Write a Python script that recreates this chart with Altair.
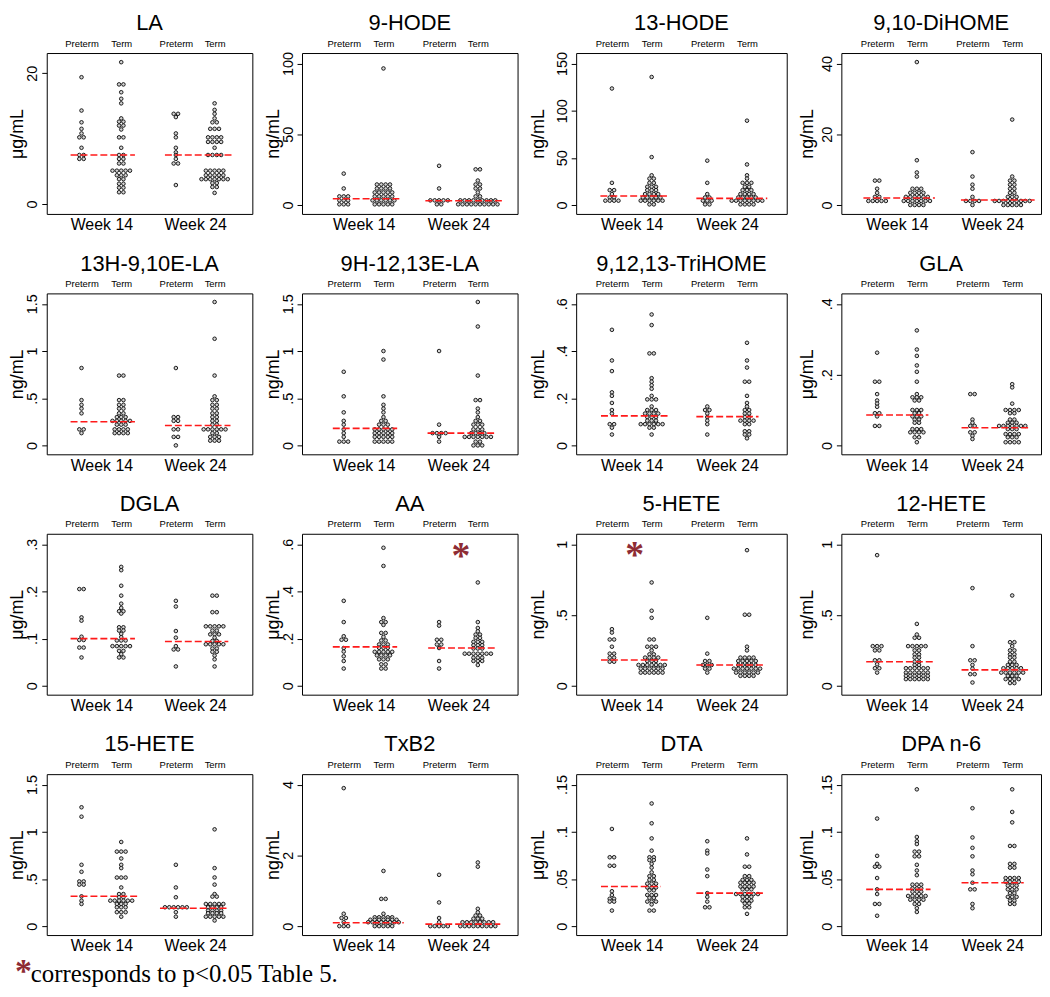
import altair as alt
import pandas as pd

# ---------------- data ----------------
GROUP_LABELS = ["Preterm", "Term", "Preterm", "Term"]
WEEK_LABELS = ["Week 14", "Week 24"]
FOOTNOTE = "corresponds to p<0.05 Table 5."

# each panel: [Preterm wk14, Term wk14, Preterm wk24, Term wk24]
LA = [
    [19.4, 14.3, 12.5, 11.5, 10.8, 10.2, 10.2, 8.6, 7.5, 7.5, 6.9, 6.9],
    [21.7, 18.3, 18.3, 17.1, 16.1, 15.4, 13.1, 12.6, 12.6, 12.0, 12.0, 11.4, 10.2, 10.2, 8.6, 7.5, 7.5,
     6.9, 6.9, 6.2, 6.2, 5.1, 5.1, 5.1, 5.1, 5.1, 4.4, 4.4, 4.4, 3.8, 3.8, 3.1, 3.1, 2.5, 2.5, 1.8, 1.8],
    [13.8, 13.8, 13.3, 10.8, 10.2, 8.6, 7.9, 7.5, 6.9, 6.2, 6.2, 2.9],
    [15.4, 14.4, 13.8, 13.1, 12.5, 12.5, 11.5, 11.5, 11.5, 10.2, 10.2, 10.2, 10.2, 9.5, 9.5, 9.5, 9.5, 8.6,
     7.5, 7.5, 7.5, 7.5, 5.1, 5.1, 5.1, 5.1, 5.1, 4.4, 4.4, 4.4, 4.4, 4.4, 3.8, 3.8, 3.8, 3.8, 3.8, 3.8, 3.8,
     3.2, 3.2, 2.6, 2.6, 1.7],
]
HODE9 = [
    [22.2, 11.7, 6.1, 6.1, 6.1, 3.3, 3.3, 3.3, 0.5, 0.5, 0.5],
    [96.5, 14.5, 14.5, 14.5, 14.5, 11.7, 11.7, 11.7, 11.7, 8.9, 8.9, 8.9, 8.9, 8.9, 6.1, 6.1, 6.1, 6.1, 6.1,
     3.3, 3.3, 3.3, 3.3, 3.3, 3.3, 0.5, 0.5, 0.5, 0.5, 0.5],
    [27.7, 11.7, 3.3, 3.3, 3.3, 3.3, 3.3, 0.5, 0.5],
    [25.2, 25.2, 17.3, 14.5, 14.5, 11.7, 11.7, 8.9, 6.1, 6.1, 3.3, 3.3, 3.3, 3.3, 3.3, 3.3, 3.3, 3.3, 3.3,
     0.5, 0.5, 0.5, 0.5, 0.5, 0.5, 0.5, 0.5, 0.5, 0.5],
]
HODE13 = [
    [123.5, 23.5, 15.8, 15.8, 11.6, 8.0, 8.0, 4.6, 4.6, 4.6, 4.6],
    [135.7, 50.8, 31.5, 28.0, 28.0, 23.5, 23.5, 19.3, 19.3, 19.3, 15.8, 15.8, 15.8, 11.6, 11.6, 11.6, 11.6,
     8.0, 8.0, 8.0, 8.0, 8.0, 4.6, 4.6, 4.6, 4.6, 4.6, 4.6, 0.7, 0.7],
    [47.0, 23.5, 11.6, 8.0, 8.0, 4.6, 4.6, 4.6, 0.7, 0.7],
    [89.4, 43.0, 31.5, 28.0, 23.5, 23.5, 23.5, 19.3, 19.3, 15.8, 15.8, 15.8, 11.6, 11.6, 11.6, 11.6,
     8.0, 8.0, 8.0, 8.0, 8.0, 4.6, 4.6, 4.6, 4.6, 4.6, 4.6, 4.6, 4.6, 0.7, 0.7, 0.7, 0.7],
]
DIHOME = [
    [6.9, 6.9, 4.6, 3.45, 2.3, 2.3, 1.15, 1.15, 1.15, 1.15, 1.15],
    [40.4, 12.65, 9.2, 8.05, 4.6, 4.6, 4.6, 3.45, 3.45, 3.45, 3.45, 2.3, 2.3, 2.3, 2.3, 2.3, 2.3,
     1.15, 1.15, 1.15, 1.15, 1.15, 1.15, 1.15, 0.0, 0.0, 0.0, 0.0],
    [14.95, 8.05, 5.75, 4.6, 2.3, 1.15, 1.15, 1.15, 1.15, 0.0],
    [24.15, 8.05, 6.9, 6.9, 5.75, 5.75, 4.6, 4.6, 3.45, 3.45, 2.3, 2.3, 2.3, 1.15, 1.15, 1.15, 1.15, 1.15,
     1.15, 1.15, 1.15, 1.15, 0.0, 0.0, 0.0, 0.0, 0.0],
]
E13H = [
    [0.82, 0.48, 0.43, 0.39, 0.34, 0.17, 0.17, 0.13],
    [0.74, 0.74, 0.48, 0.48, 0.43, 0.43, 0.39, 0.39, 0.34, 0.34, 0.30, 0.30, 0.30, 0.26, 0.26, 0.26, 0.26,
     0.26, 0.22, 0.22, 0.22, 0.17, 0.17, 0.17, 0.17, 0.13, 0.13, 0.13, 0.13],
    [0.82, 0.30, 0.30, 0.26, 0.26, 0.17, 0.17, 0.09, 0.09, 0.0],
    [1.52, 1.13, 0.74, 0.52, 0.48, 0.48, 0.43, 0.43, 0.39, 0.39, 0.34, 0.34, 0.30, 0.30, 0.26, 0.26, 0.22,
     0.22, 0.17, 0.17, 0.17, 0.17, 0.17, 0.17, 0.13, 0.13, 0.09, 0.09, 0.09, 0.05, 0.05, 0.05],
]
E9H = [
    [0.78, 0.52, 0.35, 0.26, 0.22, 0.17, 0.13, 0.09, 0.04, 0.04, 0.04],
    [1.0, 0.91, 0.52, 0.43, 0.39, 0.35, 0.30, 0.26, 0.26, 0.22, 0.22, 0.22, 0.17, 0.17, 0.17, 0.17, 0.17,
     0.13, 0.13, 0.13, 0.13, 0.13, 0.09, 0.09, 0.09, 0.09, 0.09, 0.04, 0.04, 0.04, 0.04, 0.04],
    [1.0, 0.22, 0.13, 0.13, 0.13, 0.13, 0.09, 0.04],
    [1.52, 1.26, 0.74, 0.48, 0.48, 0.39, 0.35, 0.30, 0.26, 0.26, 0.22, 0.22, 0.22, 0.17, 0.17, 0.17,
     0.13, 0.13, 0.13, 0.13, 0.09, 0.09, 0.09, 0.09, 0.09, 0.09, 0.09, 0.04, 0.04, 0.0, 0.0, 0.0],
]
TRIHOME = [
    [0.49, 0.36, 0.315, 0.225, 0.21, 0.18, 0.15, 0.135, 0.09, 0.09, 0.075, 0.046],
    [0.555, 0.51, 0.39, 0.39, 0.285, 0.27, 0.255, 0.24, 0.21, 0.195, 0.195, 0.195, 0.165, 0.15, 0.15, 0.15,
     0.135, 0.135, 0.135, 0.135, 0.12, 0.12, 0.12, 0.105, 0.105, 0.105, 0.09, 0.09, 0.09, 0.09, 0.09, 0.09,
     0.075, 0.075, 0.046],
    [0.165, 0.15, 0.15, 0.135, 0.12, 0.105, 0.09, 0.046],
    [0.435, 0.36, 0.33, 0.27, 0.27, 0.21, 0.18, 0.165, 0.15, 0.15, 0.135, 0.135, 0.12, 0.12, 0.105, 0.105,
     0.105, 0.105, 0.09, 0.09, 0.06, 0.06, 0.046, 0.046, 0.03],
]
GLA = [
    [0.262, 0.18, 0.18, 0.145, 0.127, 0.118, 0.109, 0.091, 0.091, 0.082, 0.055, 0.055],
    [0.325, 0.271, 0.253, 0.226, 0.208, 0.18, 0.145, 0.136, 0.136, 0.136, 0.127, 0.127, 0.1, 0.1, 0.1,
     0.091, 0.091, 0.082, 0.082, 0.082, 0.073, 0.073, 0.064, 0.064, 0.046, 0.046, 0.046, 0.037, 0.037,
     0.037, 0.037, 0.023, 0.023, 0.009],
    [0.145, 0.145, 0.073, 0.064, 0.055, 0.055, 0.037, 0.037, 0.027, 0.018],
    [0.173, 0.164, 0.118, 0.1, 0.1, 0.1, 0.1, 0.091, 0.091, 0.073, 0.073, 0.064, 0.064, 0.064, 0.055, 0.055,
     0.055, 0.055, 0.055, 0.055, 0.055, 0.046, 0.046, 0.046, 0.032, 0.032, 0.032, 0.032, 0.023, 0.023,
     0.023, 0.009, 0.009, 0.009, 0.009],
]
DGLA = [
    [0.205, 0.205, 0.145, 0.138, 0.104, 0.097, 0.097, 0.081, 0.081, 0.06],
    [0.252, 0.245, 0.212, 0.191, 0.174, 0.165, 0.158, 0.158, 0.153, 0.124, 0.124, 0.117, 0.117, 0.11, 0.103,
     0.096, 0.096, 0.096, 0.084, 0.084, 0.084, 0.084, 0.084, 0.074, 0.074, 0.067, 0.06, 0.06],
    [0.18, 0.168, 0.116, 0.102, 0.084, 0.077, 0.077, 0.041],
    [0.191, 0.191, 0.156, 0.156, 0.126, 0.126, 0.126, 0.126, 0.126, 0.117, 0.117, 0.109, 0.109, 0.109, 0.102,
     0.095, 0.095, 0.088, 0.088, 0.088, 0.088, 0.088, 0.079, 0.079, 0.072, 0.072, 0.064, 0.056, 0.041],
]
AA = [
    [0.36, 0.27, 0.21, 0.195, 0.195, 0.16, 0.145, 0.125, 0.105, 0.073],
    [0.585, 0.508, 0.287, 0.27, 0.27, 0.258, 0.224, 0.224, 0.207, 0.192, 0.192, 0.175, 0.175, 0.175, 0.161,
     0.161, 0.161, 0.144, 0.144, 0.144, 0.144, 0.144, 0.129, 0.129, 0.129, 0.129, 0.112, 0.112, 0.112,
     0.091, 0.091, 0.073, 0.073],
    [0.27, 0.255, 0.195, 0.195, 0.175, 0.175, 0.16, 0.105, 0.073],
    [0.438, 0.27, 0.245, 0.231, 0.217, 0.217, 0.203, 0.203, 0.186, 0.186, 0.186, 0.172, 0.172, 0.172, 0.158,
     0.158, 0.158, 0.136, 0.136, 0.136, 0.136, 0.136, 0.136, 0.136, 0.119, 0.119, 0.119, 0.105, 0.105,
     0.105, 0.088],
]
HETE5 = [
    [0.40, 0.376, 0.327, 0.327, 0.276, 0.227, 0.227, 0.199, 0.199, 0.17, 0.17],
    [0.73, 0.53, 0.48, 0.327, 0.327, 0.276, 0.276, 0.276, 0.25, 0.222, 0.222, 0.199, 0.199, 0.199, 0.199,
     0.175, 0.175, 0.175, 0.147, 0.147, 0.147, 0.147, 0.147, 0.147, 0.147, 0.121, 0.121, 0.121, 0.121,
     0.121, 0.121, 0.093, 0.093, 0.093, 0.093, 0.093, 0.093],
    [0.48, 0.227, 0.175, 0.175, 0.147, 0.147, 0.147, 0.121, 0.121, 0.093],
    [0.958, 0.502, 0.502, 0.276, 0.25, 0.199, 0.199, 0.199, 0.199, 0.175, 0.175, 0.175, 0.175, 0.175,
     0.147, 0.147, 0.147, 0.147, 0.147, 0.121, 0.121, 0.121, 0.121, 0.121, 0.121, 0.121, 0.093, 0.093,
     0.093, 0.093, 0.093, 0.093, 0.07, 0.07, 0.07, 0.07],
]
HETE12 = [
    [0.923, 0.28, 0.28, 0.28, 0.25, 0.25, 0.18, 0.18, 0.152, 0.124, 0.124, 0.093],
    [0.437, 0.362, 0.339, 0.339, 0.28, 0.28, 0.28, 0.28, 0.28, 0.25, 0.25, 0.222, 0.222, 0.199, 0.199,
     0.17, 0.17, 0.147, 0.147, 0.124, 0.124, 0.124, 0.124, 0.124, 0.124, 0.093, 0.093, 0.093, 0.093,
     0.093, 0.093, 0.07, 0.07, 0.07, 0.07, 0.07, 0.07, 0.047, 0.047, 0.047, 0.047, 0.047, 0.047],
    [0.69, 0.28, 0.18, 0.18, 0.147, 0.121, 0.082, 0.082, 0.023],
    [0.638, 0.308, 0.308, 0.28, 0.25, 0.25, 0.222, 0.222, 0.199, 0.199, 0.17, 0.17, 0.147, 0.147, 0.147,
     0.124, 0.124, 0.124, 0.124, 0.124, 0.093, 0.093, 0.093, 0.093, 0.093, 0.093, 0.07, 0.07, 0.07,
     0.047, 0.047, 0.047, 0.047, 0.019, 0.019],
]
HETE15 = [
    [1.26, 1.16, 0.65, 0.576, 0.474, 0.474, 0.44, 0.44, 0.316, 0.27, 0.235],
    [0.892, 0.79, 0.79, 0.79, 0.717, 0.65, 0.615, 0.515, 0.515, 0.515, 0.41, 0.34, 0.34, 0.306, 0.306,
     0.27, 0.27, 0.27, 0.27, 0.27, 0.27, 0.235, 0.235, 0.235, 0.2, 0.2, 0.2, 0.148, 0.148, 0.148, 0.1],
    [0.65, 0.41, 0.306, 0.2, 0.2, 0.2, 0.2, 0.2, 0.2, 0.148, 0.1],
    [1.026, 0.615, 0.516, 0.44, 0.34, 0.313, 0.313, 0.235, 0.235, 0.235, 0.235, 0.235, 0.2, 0.2, 0.2, 0.2,
     0.165, 0.165, 0.165, 0.165, 0.137, 0.137, 0.137, 0.137, 0.1, 0.1, 0.1, 0.1, 0.1, 0.06],
]
TXB2 = [
    [3.9, 0.35, 0.23, 0.23, 0.11, 0.0, 0.0, 0.0],
    [1.56, 0.77, 0.77, 0.35, 0.25, 0.25, 0.25, 0.25, 0.25, 0.18, 0.18, 0.18, 0.18, 0.18, 0.18, 0.18,
     0.11, 0.11, 0.11, 0.11, 0.11, 0.11, 0.11, 0.11, 0.0, 0.0, 0.0, 0.0, 0.0],
    [1.45, 0.67, 0.23, 0.11, 0.0, 0.0, 0.0, 0.0, 0.0],
    [1.8, 1.68, 0.49, 0.39, 0.3, 0.3, 0.21, 0.21, 0.21, 0.11, 0.11, 0.11, 0.11, 0.11, 0.11, 0.11, 0.11,
     0.0, 0.0, 0.0, 0.0, 0.0, 0.0, 0.0, 0.0, 0.0],
]
DTA = [
    [0.103, 0.073, 0.073, 0.064, 0.064, 0.037, 0.033, 0.029, 0.029, 0.026, 0.026, 0.0165],
    [0.13, 0.109, 0.093, 0.08, 0.073, 0.073, 0.07, 0.07, 0.066, 0.062, 0.057, 0.053, 0.053, 0.049, 0.049,
     0.045, 0.045, 0.045, 0.041, 0.041, 0.041, 0.038, 0.038, 0.033, 0.033, 0.033, 0.03, 0.03, 0.026, 0.026,
     0.026, 0.023, 0.0165, 0.0165],
    [0.09, 0.08, 0.077, 0.06, 0.053, 0.035, 0.031, 0.026, 0.02, 0.02],
    [0.093, 0.076, 0.063, 0.063, 0.053, 0.053, 0.049, 0.049, 0.049, 0.046, 0.046, 0.046, 0.046, 0.042,
     0.042, 0.042, 0.042, 0.039, 0.039, 0.039, 0.034, 0.034, 0.034, 0.034, 0.034, 0.034, 0.031, 0.031,
     0.031, 0.027, 0.027, 0.027, 0.024, 0.024, 0.02, 0.02, 0.013],
]
DPA = [
    [0.114, 0.0745, 0.066, 0.063, 0.063, 0.051, 0.039, 0.034, 0.0235, 0.0235, 0.011],
    [0.145, 0.0945, 0.09, 0.087, 0.079, 0.079, 0.074, 0.074, 0.065, 0.059, 0.054, 0.044, 0.044, 0.044,
     0.04, 0.04, 0.04, 0.0365, 0.0365, 0.0365, 0.032, 0.032, 0.032, 0.032, 0.032, 0.028, 0.028, 0.028,
     0.028, 0.0235, 0.0235, 0.019, 0.015],
    [0.125, 0.094, 0.083, 0.074, 0.059, 0.055, 0.046, 0.039, 0.039, 0.0235, 0.019],
    [0.145, 0.121, 0.11, 0.085, 0.085, 0.066, 0.066, 0.062, 0.062, 0.051, 0.051, 0.051, 0.051, 0.047,
     0.047, 0.047, 0.047, 0.043, 0.043, 0.043, 0.039, 0.039, 0.039, 0.035, 0.035, 0.031, 0.031, 0.031,
     0.027, 0.027, 0.0235, 0.0235],
]

# medians per week [Week 14, Week 24]
MEDIANS = {
    "LA": [7.5, 7.5], "9-HODE": [4.4, 3.0], "13-HODE": [9.5, 7.0], "9,10-DiHOME": [2.0, 1.4],
    "13H-9,10E-LA": [0.25, 0.21], "9H-12,13E-LA": [0.18, 0.13], "9,12,13-TriHOME": [0.125, 0.122],
    "GLA": [0.086, 0.05], "DGLA": [0.1, 0.094], "AA": [0.165, 0.16], "5-HETE": [0.182, 0.147],
    "12-HETE": [0.17, 0.112], "15-HETE": [0.316, 0.19], "TxB2": [0.094, 0.056],
    "DTA": [0.042, 0.035], "DPA n-6": [0.039, 0.046],
}
# significance markers: (group index, y value)
STARS = {"AA": (3, 0.585), "5-HETE": (1, 0.98)}

UG = "μg/mL"
NG = "ng/mL"
PANELS = [
    ("LA", LA, UG, [0, 20]),
    ("9-HODE", HODE9, NG, [0, 50, 100]),
    ("13-HODE", HODE13, NG, [0, 50, 100, 150]),
    ("9,10-DiHOME", DIHOME, NG, [0, 20, 40]),
    ("13H-9,10E-LA", E13H, NG, [0, 0.5, 1, 1.5]),
    ("9H-12,13E-LA", E9H, NG, [0, 0.5, 1, 1.5]),
    ("9,12,13-TriHOME", TRIHOME, NG, [0, 0.2, 0.4, 0.6]),
    ("GLA", GLA, UG, [0, 0.2, 0.4]),
    ("DGLA", DGLA, UG, [0, 0.1, 0.2, 0.3]),
    ("AA", AA, UG, [0, 0.2, 0.4, 0.6]),
    ("5-HETE", HETE5, NG, [0, 0.5, 1]),
    ("12-HETE", HETE12, NG, [0, 0.5, 1]),
    ("15-HETE", HETE15, NG, [0, 0.5, 1, 1.5]),
    ("TxB2", TXB2, NG, [0, 2, 4]),
    ("DTA", DTA, UG, [0, 0.05, 0.1, 0.15]),
    ("DPA n-6", DPA, UG, [0, 0.05, 0.1, 0.15]),
]

# ---------------- layout / style ----------------
H = 162
COL_W = [207, 217, 212, 201]
COL_CENTERS = [[35, 75, 130, 169], [42, 82, 138, 177], [36, 76, 132, 172], [36, 76, 132, 172]]
COL_EXTENT = [19, 19, 28, 24]
SP = 4.4
FONT = "Liberation Sans"
STAR_COLOR = "#8e2c34"

y_label_expr = ("datum.value > 0 && datum.value < 1 ? replace(format(datum.value, '~g'), '0.', '.')"
                " : format(datum.value, '~g')")


def y_domain(name, ticks):
    t = ticks[-1]
    if name == "LA":
        return [-1.52, 23.1]
    return [-0.063 * t, 1.074 * t]


def panel(col, name, groups, unit, ticks):
    W = COL_W[col]
    centers = COL_CENTERS[col]
    week_pos = [(centers[0] + centers[1]) / 2, (centers[2] + centers[3]) / 2]
    week_label_expr = "datum.value < %s ? '%s' : '%s'" % (W / 2, WEEK_LABELS[0], WEEK_LABELS[1])
    center_expr = "[" + ",".join(str(c) for c in centers) + "][datum.grp]"
    top_label_expr = (
        "[" + ",".join("'%s'" % g for g in GROUP_LABELS) + "][indexof(["
        + ",".join(str(c) for c in centers) + "], datum.value)]"
    )
    meds = MEDIANS[name]
    recs = []
    for g, vals in enumerate(groups):
        for v in vals:
            recs.append({"grp": g, "wk": g // 2, "value": v, "med": meds[g // 2]})
    df = pd.DataFrame(recs)
    xs = alt.Scale(domain=[0, W], nice=False, zero=False)
    ys = alt.Scale(domain=y_domain(name, ticks), nice=False, zero=False)

    base = alt.Chart(df).transform_window(
        rank="row_number()", groupby=["grp", "value"]
    ).transform_joinaggregate(
        n="count()", groupby=["grp", "value"]
    ).transform_calculate(
        xo=f"{center_expr} + (datum.rank - (datum.n + 1) / 2) * {SP}"
    )

    yaxis = alt.Axis(
        values=ticks, labelExpr=y_label_expr, labelAngle=-90, labelAlign="center",
        labelBaseline="bottom", labelFontSize=14.5, labelFont=FONT, labelColor="black",
        tickSize=5, tickColor="black", labelPadding=2, domain=False, grid=False,
        title=unit, titleFontSize=18, titleFont=FONT, titleFontWeight="normal",
        titleColor="black", titlePadding=1,
        minExtent=COL_EXTENT[col], maxExtent=COL_EXTENT[col],
    )
    dots = base.mark_point(
        shape="circle", filled=True, fill="#d4d4d4", stroke="#111111",
        strokeWidth=0.95, size=13, opacity=1,
    ).encode(
        x=alt.X("xo:Q", scale=xs, axis=alt.Axis(
            orient="bottom", values=week_pos, labelExpr=week_label_expr,
            labelFontSize=16, labelFont=FONT, labelColor="black", ticks=False, domain=False,
            grid=False, labelPadding=3, title=None)),
        y=alt.Y("value:Q", scale=ys, axis=yaxis),
    )
    med = base.transform_aggregate(
        minx="min(xo)", maxx="max(xo)", value="max(med)", groupby=["wk"]
    ).transform_calculate(
        x1=f"min(datum.minx - 5, [{centers[0]},{centers[2]}][datum.wk] - 11)",
        x2="datum.maxx + 5",
    ).mark_rule(color="#ff1a1a", strokeWidth=1.6, strokeDash=[7, 3]).encode(
        x=alt.X("x1:Q", scale=xs, axis=alt.Axis(
            orient="top", values=centers, labelExpr=top_label_expr, labelFontSize=9.5,
            labelFont=FONT, labelColor="black", ticks=False, domain=False, grid=False,
            labelPadding=5, title=None)),
        x2="x2:Q",
        y=alt.Y("value:Q", scale=ys, axis=yaxis),
    )
    title = alt.Chart(pd.DataFrame([{"name": name}])).mark_text(
        font=FONT, fontSize=22, color="black", align="center", baseline="middle",
    ).encode(x=alt.value(W / 2), y=alt.value(-30), text="name:N")
    layers = [dots, med, title]
    if name in STARS:
        g, yv = STARS[name]
        sdf = pd.DataFrame([{"grp": g, "value": yv, "t": "*"}])
        star = alt.Chart(sdf).transform_calculate(
            xs=f"{center_expr} - 17"
        ).mark_text(
            font="Liberation Serif", fontWeight="bold", fontSize=38, color=STAR_COLOR,
            baseline="alphabetic", dy=20,
        ).encode(
            x=alt.X("xs:Q", scale=xs, axis=None),
            y=alt.Y("value:Q", scale=ys, axis=yaxis),
            text="t:N",
        )
        layers.append(star)
    return alt.layer(*layers).resolve_axis(x="independent").properties(width=W, height=H)


rows = []
for r in range(4):
    rows.append(alt.hconcat(*[panel(c, *PANELS[r * 4 + c]) for c in range(4)], spacing=10))
grid = alt.vconcat(*rows, spacing=18)

note_df = pd.DataFrame([{"t": FOOTNOTE, "s": "*"}])
note_star = alt.Chart(note_df).mark_text(
    font="Liberation Serif", fontWeight="bold", fontSize=34, color=STAR_COLOR,
    align="left", baseline="alphabetic",
).encode(x=alt.value(-32), y=alt.value(22), text="s:N")
note_text = alt.Chart(note_df).mark_text(
    font="Liberation Serif", fontSize=25, color="black", align="left", baseline="alphabetic",
).encode(x=alt.value(-16), y=alt.value(22), text="t:N")
note = alt.layer(note_star, note_text).properties(
    width=380, height=26, view=alt.ViewBackground(strokeOpacity=0)
)

chart = alt.vconcat(
    grid, note, spacing=0, padding={"left": 0, "top": 0, "right": 0, "bottom": 0}
).configure(
    font=FONT, background="white"
).configure_view(stroke="black", strokeWidth=1)

chart.save("out.html", embed_options={"renderer": "svg", "actions": False})
